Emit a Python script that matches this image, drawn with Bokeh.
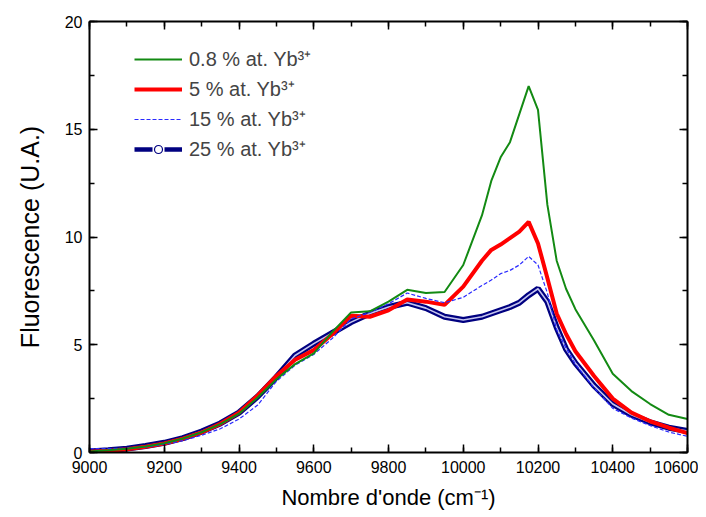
import math
from bokeh.plotting import figure
from bokeh.models import (LinearAxis, SingleIntervalTicker, Range1d, Legend, LegendItem,
                          ColumnDataSource, CustomJSTickFormatter)
from bokeh.embed import file_html
from bokeh.resources import INLINE

# ---- data ----
wavenumber = [9000, 9050, 9100, 9150, 9200, 9250, 9300, 9350, 9400, 9450, 9500, 9550,
              9600, 9650, 9700, 9750, 9800, 9850, 9900, 9950, 10000, 10050, 10075,
              10100, 10125, 10150, 10175, 10200, 10225, 10250, 10275, 10300, 10350,
              10400, 10450, 10500, 10550, 10600]

yb_0_8 = [0.05, 0.10, 0.17, 0.28, 0.43, 0.65, 0.94, 1.32, 1.80, 2.55, 3.40, 4.10,
          4.60, 5.60, 6.50, 6.55, 7.00, 7.55, 7.40, 7.45, 8.70, 11.0, 12.6,
          13.7, 14.4, 15.7, 17.0, 15.9, 11.5, 8.9, 7.6, 6.65, 5.2,
          3.65, 2.85, 2.25, 1.75, 1.55]

yb_5 = [0.03, 0.08, 0.15, 0.27, 0.42, 0.64, 0.93, 1.33, 1.85, 2.65, 3.55, 4.30,
        4.75, 5.50, 6.35, 6.30, 6.60, 7.10, 7.00, 6.85, 7.70, 8.90, 9.40,
        9.65, 9.95, 10.25, 10.7, 9.7, 8.1, 6.45, 5.5, 4.7, 3.55,
        2.5, 1.85, 1.45, 1.15, 0.90]

yb_15 = [0.18, 0.18, 0.20, 0.25, 0.38, 0.55, 0.80, 1.10, 1.55, 2.20, 3.30, 4.05,
         4.55, 5.30, 6.20, 6.50, 6.90, 7.40, 7.15, 6.95, 7.20, 7.75, 8.00,
         8.30, 8.45, 8.70, 9.10, 8.70, 7.40, 5.70, 4.85, 4.10, 3.00,
         2.05, 1.60, 1.25, 0.95, 0.75]

yb_25 = [0.05, 0.10, 0.18, 0.30, 0.45, 0.67, 0.97, 1.35, 1.85, 2.60, 3.50, 4.50,
         5.05, 5.55, 6.05, 6.45, 6.75, 6.95, 6.70, 6.30, 6.15, 6.30, 6.45,
         6.60, 6.75, 6.95, 7.30, 7.60, 7.00, 5.80, 4.80, 4.15, 3.10,
         2.25, 1.75, 1.40, 1.15, 1.00]

labels = ["0.8 % at. Yb\u00b3\u207a", "5 % at. Yb\u00b3\u207a",
          "15 % at. Yb\u00b3\u207a", "25 % at. Yb\u00b3\u207a"]

FONT = "Liberation Sans"

p = figure(width=698, height=512, output_backend="svg", toolbar_location=None,
           x_range=Range1d(9000, 10600), y_range=Range1d(0, 20),
           min_border_left=89, min_border_top=21, min_border_right=11,
           min_border_bottom=60, background_fill_color="white",
           border_fill_color="white", outline_line_color=None)
p.grid.visible = False

src = ColumnDataSource(dict(x=wavenumber, a=yb_0_8, b=yb_5, c=yb_15, d=yb_25))

# 25 % : dense open circles look -> navy tube with light core
r25a = p.line("x", "d", source=src, line_color="#000080", line_width=6)
r25b = p.line("x", "d", source=src, line_color="#c4c4ee", line_width=1.6)
r5 = p.line("x", "b", source=src, line_color="#ff0000", line_width=4)
r15 = p.line("x", "c", source=src, line_color="#2a2aff", line_width=1.2, line_dash="4 2")
r08 = p.line("x", "a", source=src, line_color="#138a13", line_width=2)

# legend-only glyphs for the 25 % entry (no visible data)
nan_src = ColumnDataSource(dict(x=[math.nan], y=[math.nan]))
lg_line = p.line("x", "y", source=nan_src, line_color="#000080", line_width=4.5,
                 line_dash="18 12")
lg_circ = p.scatter("x", "y", source=nan_src, marker="circle", size=4,
                    line_color="#000080", fill_color="white", line_width=1.2)

legend = Legend(items=[
    LegendItem(label=labels[0], renderers=[r08]),
    LegendItem(label=labels[1], renderers=[r5]),
    LegendItem(label=labels[2], renderers=[r15]),
    LegendItem(label=labels[3], renderers=[lg_line, lg_circ]),
], location=(45, 290), border_line_color=None, background_fill_alpha=0,
    label_text_font=FONT, label_text_font_size="20px", glyph_width=48,
    glyph_height=20, label_height=20, spacing=3, padding=5, margin=0,
    label_standoff=7)
p.add_layout(legend)

def style_axis(ax):
    ax.axis_line_width = 2
    ax.major_tick_line_width = 1.5
    ax.minor_tick_line_width = 1.5
    ax.major_tick_in = 8
    ax.major_tick_out = 0
    ax.minor_tick_in = 5
    ax.minor_tick_out = 0
    ax.major_label_text_font = FONT
    ax.major_label_text_color = "black"
    ax.axis_label_text_font = FONT
    ax.axis_label_text_font_style = "normal"
    ax.axis_label_text_color = "black"

p.xaxis.ticker = SingleIntervalTicker(interval=200, num_minor_ticks=2)
p.yaxis.ticker = SingleIntervalTicker(interval=5, num_minor_ticks=2)
style_axis(p.xaxis[0])
style_axis(p.yaxis[0])
p.xaxis.major_label_text_font_size = "16px"
p.yaxis.major_label_text_font_size = "16px"
p.xaxis.major_label_standoff = 8
p.yaxis.major_label_standoff = 7
p.xaxis.axis_label = "Nombre d'onde (cm\u207b\u00b9)"
p.yaxis.axis_label = "Fluorescence (U.A.)"
p.xaxis.axis_label_text_font_size = "22px"
p.yaxis.axis_label_text_font_size = "25px"
p.xaxis.axis_label_standoff = 9
p.yaxis.axis_label_standoff = 18

blank = CustomJSTickFormatter(code="return ''")
top = LinearAxis(ticker=SingleIntervalTicker(interval=200, num_minor_ticks=2),
                 formatter=blank, major_label_standoff=0)
right = LinearAxis(ticker=SingleIntervalTicker(interval=5, num_minor_ticks=2),
                   formatter=blank, major_label_standoff=0)
style_axis(top)
style_axis(right)
p.add_layout(top, "above")
p.add_layout(right, "right")

open("out.html", "w").write(file_html(p, INLINE))
